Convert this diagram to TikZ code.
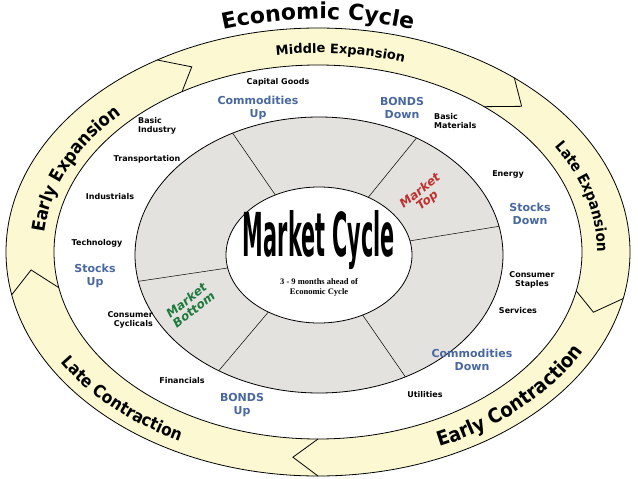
\documentclass[tikz,border=0pt]{standalone}
\usepackage{fontspec}
\setmainfont{Liberation Serif}
\newfontfamily\hb{DejaVu Sans}
\newfontfamily\cond{DejaVu Sans Condensed}[BoldFont={DejaVu Sans Condensed Bold}]
\usetikzlibrary{calc,decorations.text}
\definecolor{ringy}{HTML}{FBF8D2}
\definecolor{grayr}{HTML}{E4E2DE}
\definecolor{bluet}{HTML}{4A68A0}
\definecolor{redt}{HTML}{C03030}
\definecolor{greent}{HTML}{1E7A3C}
\tikzset{
  lab/.style={font=\hb\bfseries\fontsize{8}{9}\selectfont, align=center, inner sep=0pt},
  blab/.style={font=\hb\bfseries\fontsize{11}{12.5}\selectfont, text=bluet, align=center, inner sep=0pt},
  edge/.style={draw=black, line width=0.8pt},
}
\begin{document}
\begin{tikzpicture}[x=1pt,y=1pt]
\useasboundingbox (0,0) rectangle (638,-479);
\fill[white] (0,0) rectangle (638,-479);
\coordinate (C) at (318,-252);
\coordinate (G) at (319,-255);
% outer ring
\fill[ringy,even odd rule] (C) ellipse [x radius=312, y radius=224] (C) ellipse [x radius=264, y radius=187];
\draw[edge] (C) ellipse [x radius=312, y radius=224];
\draw[edge] (C) ellipse [x radius=264, y radius=187];
\foreach \b/\t in {121/116, 51/45, -12/-17, -90/-95, 191/185}{
  \draw[edge] ($(C)+(\b:312 and 224)$) -- ($(C)+(\t:288 and 206)$) -- ($(C)+(\b:264 and 187)$);
}
% grey ring
\filldraw[fill=grayr, edge] (G) ellipse [x radius=184, y radius=138];
\filldraw[fill=white, edge] (G) ellipse [x radius=93, y radius=68];
\foreach \a in {118,58,12,191,237,298}{
  \draw[black, line width=0.5pt] ($(G)+(\a:93 and 68)$) -- ($(G)+(\a:184 and 138)$);
}
% ring texts
\path[decorate, decoration={text along path, text align=center,
  text={|\hb\bfseries\fontsize{22}{22}\selectfont|Economic Cycle}}]
  ($(C)+(140:321 and 233)$) arc[start angle=140, end angle=40, x radius=321, y radius=233];
\path[decorate, decoration={text along path, text align=center,
  text={|\hb\bfseries\fontsize{13}{13}\selectfont|Middle Expansion}}]
  ($(C)+(120:282 and 199)$) arc[start angle=120, end angle=50, x radius=282, y radius=199];
\path[decorate, decoration={text along path, text align=center,
  text={|\cond\bfseries\fontsize{15}{15}\selectfont|Late Expansion}}]
  ($(C)+(45:279 and 198)$) arc[start angle=45, end angle=-15, x radius=279, y radius=198];
\path[decorate, decoration={text along path, text align=center,
  text={|\cond\bfseries\fontsize{20}{20}\selectfont|Early Contraction}}]
  ($(C)+(-84:300 and 213)$) arc[start angle=-84, end angle=-4, x radius=300, y radius=213];
\path[decorate, decoration={text along path, text align=center,
  text={|\cond\bfseries\fontsize{17}{17}\selectfont|Late Contraction}}]
  ($(C)+(186:301 and 213)$) arc[start angle=186, end angle=262, x radius=301, y radius=213];
\path[decorate, decoration={text along path, text align=center,
  text={|\cond\bfseries\fontsize{18}{18}\selectfont|Early Expansion}}]
  ($(C)+(194:275 and 197)$) arc[start angle=194, end angle=120, x radius=275, y radius=197];
% sector labels
\node[lab] (cap) at (278,-82) {Capital Goods};
\node[blab] (comu) at (258,-108) {Commodities\\Up};
\node[blab] (bondd) at (402,-108) {BONDS\\Down};
\node[lab, align=left, anchor=west] (bmat) at (434,-121) {Basic\\Materials};
\node[lab, align=left, anchor=west] (bind) at (138,-126) {Basic\\Industry};
\node[lab] (trans) at (147,-159) {Transportation};
\node[lab] (indu) at (110,-197) {Industrials};
\node[lab] (tech) at (97,-243) {Technology};
\node[blab] (stu) at (95,-276) {Stocks\\Up};
\node[lab, align=right, anchor=east] (ccyc) at (153,-320) {Consumer\\Cyclicals};
\node[lab] (fin) at (182,-381) {Financials};
\node[blab] (bondu) at (242,-405) {BONDS\\Up};
\node[lab] (util) at (425,-395) {Utilities};
\node[blab] (comd) at (472,-360) {Commodities\\Down};
\node[lab] (serv) at (518,-311) {Services};
\node[lab] (cst) at (532,-280) {Consumer\\Staples};
\node[blab] (std) at (530,-214) {Stocks\\Down};
\node[lab] (ener) at (508,-174) {Energy};
% center
\node[inner sep=0pt] (mc) at (319,-240) {\resizebox{152pt}{46pt}{\cond\bfseries Market Cycle}};
\node[font=\bfseries\fontsize{8.5}{10}\selectfont, align=center, inner sep=0pt] (ahead) at (319,-287) {3 - 9 months ahead of\\Economic Cycle};
\node[font=\hb\bfseries\itshape\fontsize{12}{12}\selectfont, text=redt, align=center, rotate=38, inner sep=0pt] (mtop) at (424,-196) {Market\\Top};
\node[font=\hb\bfseries\itshape\fontsize{12}{12}\selectfont, text=greent, align=center, rotate=38, inner sep=0pt] (mbot) at (190,-305) {Market\\Bottom};
\end{tikzpicture}
\end{document}
